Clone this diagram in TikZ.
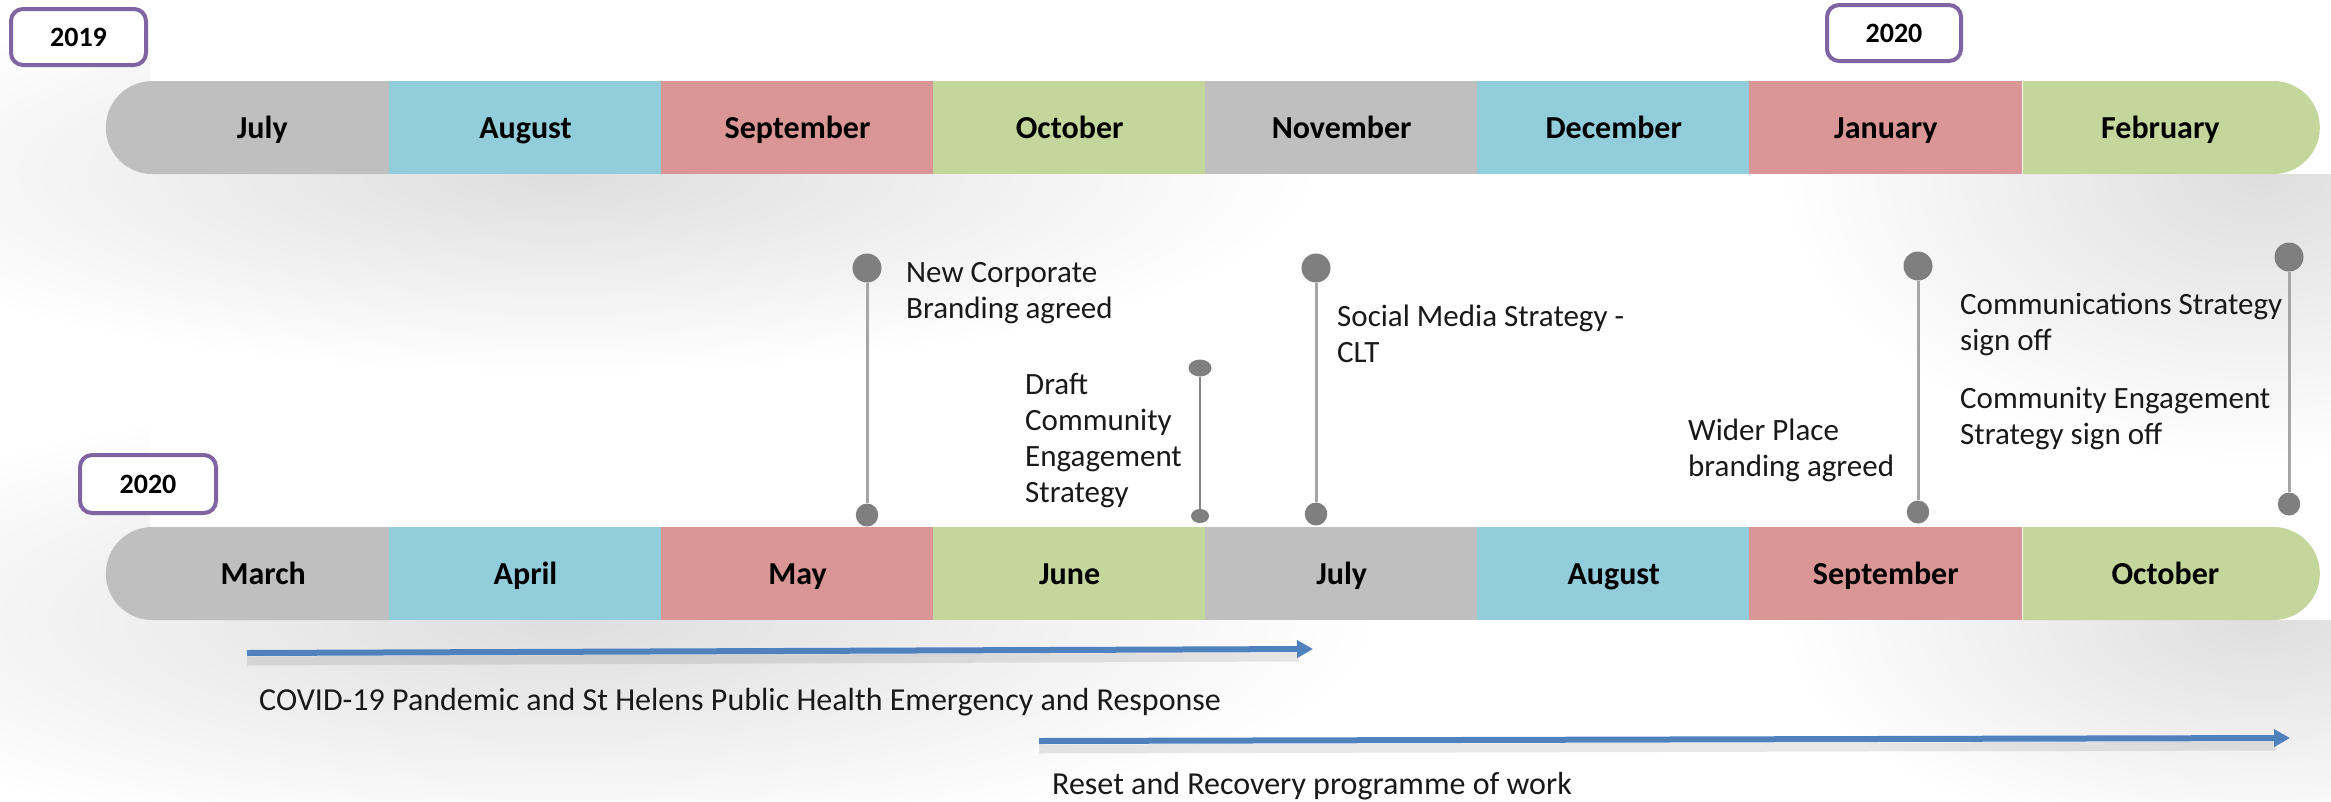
\documentclass[tikz,border=0pt]{standalone}
\usepackage{fontspec}
\setmainfont{Carlito}
\usetikzlibrary{shapes.misc,shapes.geometric,arrows.meta}
\definecolor{mgray}{HTML}{BFBFBF}
\definecolor{mblue}{HTML}{92CDDC}
\definecolor{mred}{HTML}{D99694}
\definecolor{mgreen}{HTML}{C3D69B}
\definecolor{ypurple}{HTML}{8064A2}
\definecolor{dotgray}{HTML}{7F7F7F}
\definecolor{stemgray}{HTML}{A6A6A6}
\definecolor{arrowblue}{HTML}{4F81BD}
\begin{document}
\begin{tikzpicture}[x=1pt,y=-1pt,
  monthtxt/.style={inner sep=0pt, minimum height=93pt, text height=24pt, text depth=2pt, text=black, font=\bfseries\fontsize{32}{38}\selectfont},
  seg/.style={monthtxt, rectangle, minimum width=273pt},
  endl/.style={monthtxt, rounded rectangle, rounded rectangle right arc=none},
  endr/.style={monthtxt, rounded rectangle, rounded rectangle left arc=none},
  yearbox/.style={draw=ypurple, line width=4pt, rounded corners=12pt, fill=white, inner sep=0pt, minimum height=56pt, minimum width=135pt, font=\bfseries\fontsize{28}{34}\selectfont},
  bigdot/.style={ellipse, fill=dotgray, inner sep=0pt, minimum width=29pt, minimum height=29pt},
  botdot/.style={ellipse, fill=dotgray, inner sep=0pt, minimum width=22.5pt, minimum height=23pt},
  smalltop/.style={ellipse, fill=dotgray, inner sep=0pt, minimum width=23pt, minimum height=17pt},
  smallbot/.style={ellipse, fill=dotgray, inner sep=0pt, minimum width=18pt, minimum height=14pt},
  stem/.style={draw=stemgray, line width=3pt},
  thinstem/.style={draw=stemgray!80!black, line width=2pt},
  note/.style={align=left, anchor=base west, inner sep=0pt, text=black!90, font=\fontsize{31}{36}\selectfont},
  bignote/.style={note, font=\fontsize{32}{36}\selectfont},
  period/.style={draw=arrowblue, line width=6pt, -{Triangle[length=16pt,width=17pt]}},
  periodshadow/.style={draw=black, opacity=0.09, line width=9pt},
  softshadow/.style={inner color=black!13, outer color=white},
]
\useasboundingbox (0,0) rectangle (2331,801);
\fill[white] (0,0) rectangle (2331,801);
% soft shadows below and beside the bars
\begin{scope}
  \clip (0,0) rectangle (150,528) (150,174) rectangle (2331,528);
  \shade[softshadow] (560,174) ellipse [x radius=760, y radius=200];
  \shade[softshadow] (2260,174) ellipse [x radius=480, y radius=290];
\end{scope}
\begin{scope}
  \clip (0,400) rectangle (150,801) (150,620) rectangle (2331,801);
  \shade[softshadow] (560,620) ellipse [x radius=820, y radius=230];
  \shade[softshadow] (2260,620) ellipse [x radius=480, y radius=230];
\end{scope}

% top bar (2019/2020)
\node[endl, fill=mgray, minimum width=283pt] (jul19) at (248.25,127.5) {\hspace*{28pt}July};
\node[seg, fill=mblue] (aug19) at (525.5,127.5) {August};
\node[seg, fill=mred] (sep19) at (797.55,127.5) {September};
\node[seg, fill=mgreen] (oct19) at (1069.6,127.5) {October};
\node[seg, fill=mgray] (nov19) at (1341.65,127.5) {November};
\node[seg, fill=mblue] (dec19) at (1613.75,127.5) {December};
\node[seg, fill=mred] (jan20) at (1885.8,127.5) {January};
\node[endr, fill=mgreen, minimum width=297pt] (feb20) at (2170.4,127.5) {February\hspace*{20pt}};

% bottom bar (2020)
\node[endl, fill=mgray, minimum width=283pt] (mar20) at (248.25,573.5) {\hspace*{30pt}March};
\node[seg, fill=mblue] (apr20) at (525.5,573.5) {April};
\node[seg, fill=mred] (may20) at (797.55,573.5) {May};
\node[seg, fill=mgreen] (jun20) at (1069.6,573.5) {June};
\node[seg, fill=mgray] (jul20) at (1341.65,573.5) {July};
\node[seg, fill=mblue] (aug20) at (1613.75,573.5) {August};
\node[seg, fill=mred] (sep20) at (1885.8,573.5) {September};
\node[endr, fill=mgreen, minimum width=297pt] (oct20) at (2170.4,573.5) {October\hspace*{10pt}};

% year boxes
\node[yearbox] (y2019) at (78.5,37) {2019};
\node[yearbox, minimum width=134pt] (y2020a) at (1894,33) {2020};
\node[yearbox, minimum width=136pt, minimum height=58pt] (y2020b) at (148,484) {2020};

% milestones
\node[bigdot] (m1t) at (867,268) {};
\node[botdot] (m1b) at (867,515) {};
\node[smalltop] (m2t) at (1200,368) {};
\node[smallbot] (m2b) at (1200,516) {};
\node[bigdot] (m3t) at (1316,268) {};
\node[botdot] (m3b) at (1316,514) {};
\node[bigdot] (m4t) at (1918,266) {};
\node[botdot] (m4b) at (1918,512) {};
\node[bigdot] (m5t) at (2289,257) {};
\node[botdot] (m5b) at (2289,504) {};
\draw[stem] (m1t) -- (m1b);
\draw[thinstem] (m2t) -- (m2b);
\draw[stem] (m3t) -- (m3b);
\draw[stem] (m4t) -- (m4b);
\draw[stem] (m5t) -- (m5b);

\node[note] (t1) at (906,318) {New Corporate\\Branding agreed};
\node[note] (t2) at (1025,502) {Draft\\Community\\Engagement\\Strategy};
\node[note] (t3) at (1337,362) {Social Media Strategy -\\CLT};
\node[note] (t4) at (1688,476) {Wider Place\\branding agreed};
\node[note] (t5) at (1960,350) {Communications Strategy\\sign off};
\node[note] (t6) at (1960,444) {Community Engagement\\Strategy sign off};

% periods
\coordinate (a1s) at (247,653);
\coordinate (a1e) at (1313,649);
\coordinate (a2s) at (1039,741);
\coordinate (a2e) at (2290,738);
\draw[periodshadow] ([yshift=-8pt]a1s) -- ([yshift=-8pt,xshift=-14pt]a1e);
\draw[periodshadow] ([yshift=-8pt]a2s) -- ([yshift=-8pt,xshift=-14pt]a2e);
\draw[period] (a1s) -- (a1e);
\draw[period] (a2s) -- (a2e);
\node[bignote] (t7) at (259,710) {COVID-19 Pandemic and St Helens Public Health Emergency and Response};
\node[bignote] (t8) at (1052,794) {Reset and Recovery programme of work};
\end{tikzpicture}
\end{document}
